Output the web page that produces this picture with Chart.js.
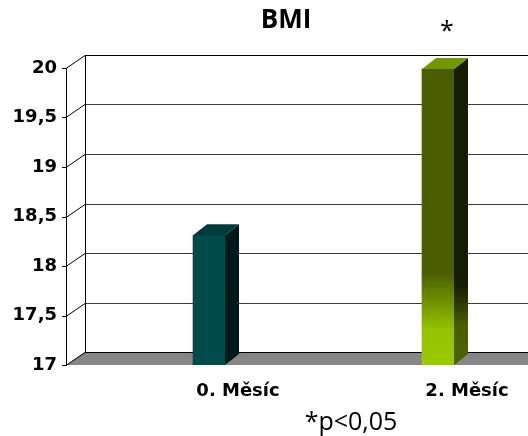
<!DOCTYPE html>
<html>
<head>
<meta charset="utf-8">
<script src="https://cdn.jsdelivr.net/npm/chart.js@4/dist/chart.umd.min.js"></script>
<style>
  html, body { margin: 0; padding: 0; background: #fff; }
  canvas { display: block; }
</style>
</head>
<body>
<canvas id="bmiChart" width="528" height="436"></canvas>
<script>
// BMI at month 0 and month 2
const categories = ['0. Měsíc', '2. Měsíc'];
const bmiValues = [18.31, 19.99];
const significance = ['', '*'];
const yTicks = [17, 17.5, 18, 18.5, 19, 19.5, 20];
const chartTitle = 'BMI';
const footnote = '*p<0,05';

// pseudo-3D geometry
const WALL_DX = 19, WALL_DY = 13;
const BAR_DX = 14, BAR_DY = 11;

const formatTick = v => String(v).replace('.', ',');

// colour stops (bottom -> top) for each bar's faces
const frontStops = [
  [[0, '#004b4b'], [1, '#004b4b']],
  [[0, '#9acc00'], [0.12, '#93c200'], [0.31, '#4a5e00'], [1, '#4a5e00']]
];
const sideStops = [
  [[0, '#001818'], [1, '#001818']],
  [[0, '#4d6300'], [0.13, '#4a5e00'], [0.27, '#161d00'], [1, '#161d00']]
];
const topColors = ['#003b3b', '#729800'];

function vGradient(ctx, area, stops) {
  const g = ctx.createLinearGradient(0, area.bottom, 0, area.top);
  stops.forEach(([o, c]) => g.addColorStop(o, c));
  return g;
}

const depthPlugin = {
  id: 'depth3d',
  beforeDatasetsDraw(chart) {
    const { ctx, chartArea: a, scales: { y } } = chart;
    const left = a.left, right = chart.width;
    const yBottom = y.getPixelForValue(y.min);
    const yTop = y.getPixelForValue(y.max);
    ctx.save();
    // floor
    ctx.fillStyle = '#878787';
    ctx.beginPath();
    ctx.moveTo(left, yBottom);
    ctx.lineTo(left + WALL_DX, yBottom - WALL_DY);
    ctx.lineTo(right, yBottom - WALL_DY);
    ctx.lineTo(right, yBottom);
    ctx.closePath();
    ctx.fill();
    // grid lines on the back wall with slanted connectors to the axis
    ctx.lineWidth = 1;
    y.ticks.forEach(t => {
      const py = Math.round(y.getPixelForValue(t.value)) + 0.5;
      ctx.strokeStyle = '#000';
      ctx.beginPath();
      ctx.moveTo(left - 4, py);
      ctx.lineTo(left, py);
      ctx.lineTo(left + WALL_DX, py - WALL_DY);
      ctx.stroke();
      ctx.strokeStyle = (t.value === y.min || t.value === y.max) ? '#000' : '#3c3c3c';
      ctx.beginPath();
      ctx.moveTo(left + WALL_DX, py - WALL_DY);
      ctx.lineTo(right, py - WALL_DY);
      ctx.stroke();
    });
    // axis line and back wall edge
    ctx.strokeStyle = '#000';
    ctx.beginPath();
    ctx.moveTo(left + 0.5, Math.round(yTop));
    ctx.lineTo(left + 0.5, Math.round(yBottom) + 1);
    ctx.moveTo(left + WALL_DX + 0.5, Math.round(yTop) - WALL_DY);
    ctx.lineTo(left + WALL_DX + 0.5, Math.round(yBottom) - WALL_DY + 1);
    ctx.stroke();
    ctx.restore();
  },
  afterDatasetsDraw(chart) {
    const { ctx, chartArea: a, scales } = chart;
    const base = scales.y.getPixelForValue(scales.y.min);
    const meta = chart.getDatasetMeta(0);
    ctx.save();
    meta.data.forEach((bar, i) => {
      const { x, y, width } = bar.getProps(['x', 'y', 'width'], true);
      const l = x - width / 2, r = x + width / 2;
      // side face
      ctx.fillStyle = vGradient(ctx, a, sideStops[i]);
      ctx.beginPath();
      ctx.moveTo(r, y);
      ctx.lineTo(r + BAR_DX, y - BAR_DY);
      ctx.lineTo(r + BAR_DX, base - BAR_DY);
      ctx.lineTo(r, base);
      ctx.closePath();
      ctx.fill();
      // top face
      ctx.fillStyle = topColors[i];
      ctx.beginPath();
      ctx.moveTo(l, y);
      ctx.lineTo(l + BAR_DX, y - BAR_DY);
      ctx.lineTo(r + BAR_DX, y - BAR_DY);
      ctx.lineTo(r, y);
      ctx.closePath();
      ctx.fill();
      // significance marker
      if (significance[i]) {
        ctx.fillStyle = '#000';
        ctx.font = '25px "Open Sans"';
        ctx.textAlign = 'center';
        ctx.textBaseline = 'alphabetic';
        ctx.fillText(significance[i], x + 9, 39);
      }
    });
    // title and footnote
    ctx.fillStyle = '#000';
    ctx.textAlign = 'center';
    ctx.textBaseline = 'alphabetic';
    ctx.font = 'bold 26px "Open Sans"';
    ctx.fillText(chartTitle, 286, 28);
    ctx.font = '25px "Open Sans"';
    ctx.fillText(footnote, 351, 430);
    ctx.restore();
  }
};

const tickFont = { family: '"DejaVu Sans"', weight: 'bold', size: 18 };

new Chart(document.getElementById('bmiChart'), {
  type: 'bar',
  data: {
    datasets: [{
      data: bmiValues.map((v, i) => ({ x: i, y: v })),
      barThickness: 32,
      borderWidth: 0,
      backgroundColor: ctx => {
        const area = ctx.chart.chartArea;
        if (!area) return frontStops[ctx.dataIndex][0][1];
        return vGradient(ctx.chart.ctx, area, frontStops[ctx.dataIndex]);
      }
    }]
  },
  options: {
    responsive: false,
    animation: false,
    layout: { padding: { top: 68, left: 0, right: 0, bottom: 0 } },
    plugins: {
      legend: { display: false },
      tooltip: { enabled: false },
      title: { display: false }
    },
    scales: {
      x: {
        type: 'linear',
        offset: false,
        min: -0.6245,
        max: 1.393,
        grid: { display: false, drawTicks: false },
        border: { display: false },
        afterBuildTicks: s => { s.ticks = categories.map((_, i) => ({ value: i })); },
        afterFit: s => { s.height = 71; },
        ticks: {
          callback: v => categories[v] ?? '',
          labelOffset: 29,
          padding: 16,
          autoSkip: false,
          maxRotation: 0,
          color: '#000',
          font: tickFont
        }
      },
      y: {
        min: 17,
        max: 20,
        grid: { display: false, drawTicks: false },
        border: { display: false },
        afterBuildTicks: s => { s.ticks = yTicks.map(v => ({ value: v })); },
        afterFit: s => { s.width = 66; },
        ticks: {
          callback: formatTick,
          padding: 9,
          color: '#000',
          font: tickFont
        }
      }
    }
  },
  plugins: [depthPlugin]
});
</script>
</body>
</html>
